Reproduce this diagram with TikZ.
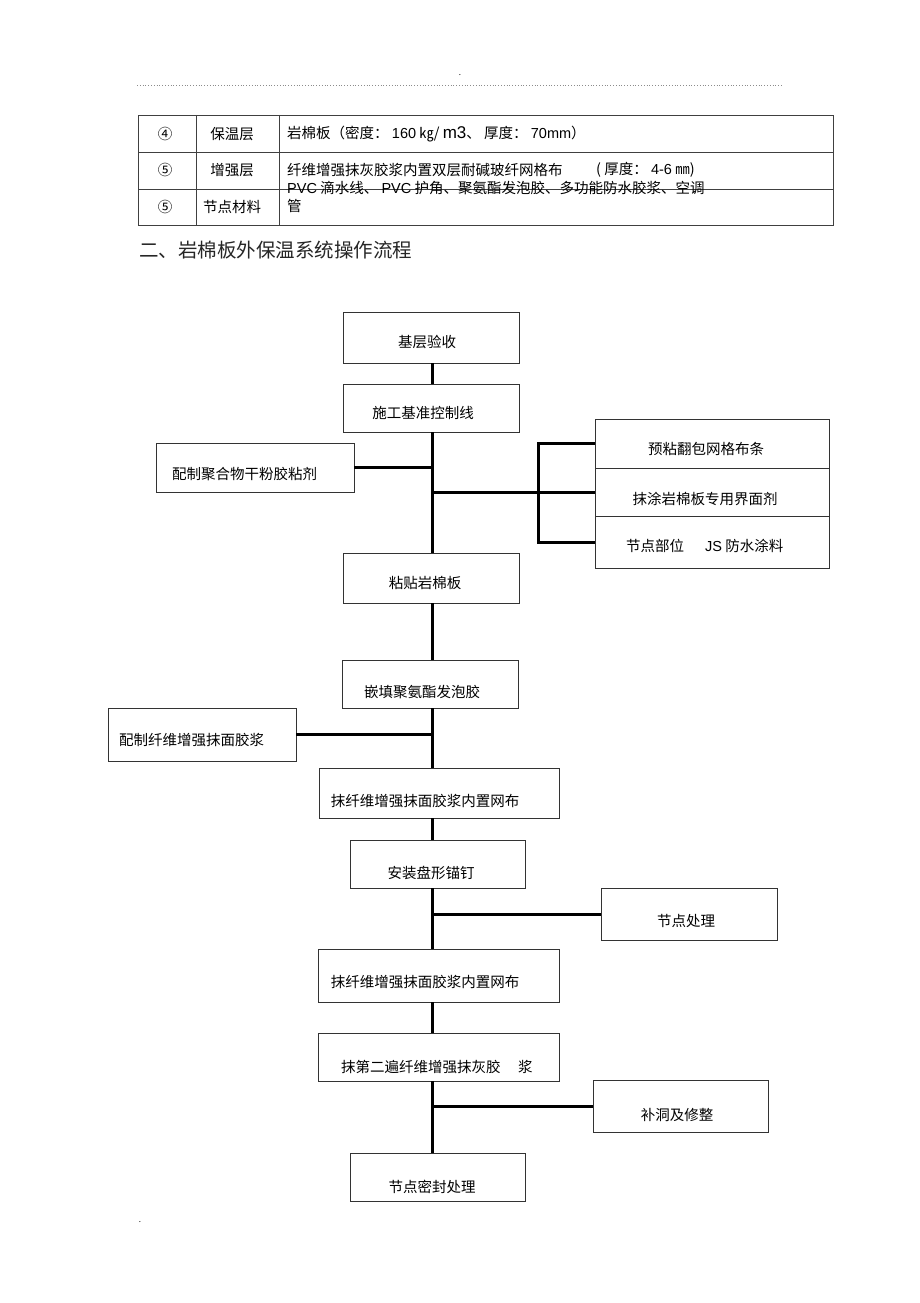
\documentclass[tikz,border=0pt]{standalone}
\usepackage{fontspec}
\setmainfont{Noto Sans CJK SC}
\newfontfamily\lat{Liberation Sans}
\begin{document}
\begin{tikzpicture}[x=1pt,y=-1pt,
  bx/.style={draw=black!80, line width=0.9pt, inner sep=0pt},
  conn/.style={draw=black, line width=3pt},
  tx/.style={inner sep=0pt, font=\fontsize{14.5}{16}\selectfont},
  tbt/.style={inner sep=0pt, font=\fontsize{14.5}{16}\selectfont},
  tline/.style={draw=black!75, line width=0.9pt}]
\useasboundingbox (0,0) rectangle (920,1303);
\fill[white] (0,0) rectangle (920,1303);
% header
\draw[draw=black!45, line width=0.8pt, dotted] (137,85) -- (782,85);
\node[inner sep=0pt, font=\fontsize{8}{8}\selectfont] (hdot) at (460,75) {.};
\node[inner sep=0pt, font=\fontsize{8}{8}\selectfont] (fdot) at (140,1222) {.};
% table
\draw[tline] (138,115) rectangle (833,225);
\draw[tline] (138,152) -- (833,152);
\draw[tline] (138,189) -- (833,189);
\draw[tline] (196,115) -- (196,225);
\draw[tline] (279,115) -- (279,225);
\node[tbt] (c11) at (165,134) {④};
\node[tbt] (c12) at (232,134) {保温层};
\node[tbt, anchor=west] (c13) at (287,134) {岩棉板（密度：\ {\lat 160} ㎏/ {\lat\fontsize{17}{17}\selectfont m3}、 厚度：\ {\lat 70mm}）};
\node[tbt] (c21) at (165,170) {⑤};
\node[tbt] (c22) at (232,170) {增强层};
\node[tbt, anchor=west] (c23) at (287,170) {纤维增强抹灰胶浆内置双层耐碱玻纤网格布};
\node[tbt, anchor=west] (c23b) at (596,170) {( 厚度：\ {\lat 4-6} ㎜)};
\node[tbt] (c31) at (165,207) {⑤};
\node[tbt] (c32) at (232,207) {节点材料};
\node[tbt, anchor=west] (c33) at (287,188) {{\lat PVC} 滴水线、 {\lat PVC} 护角、聚氨酯发泡胶、多功能防水胶浆、空调};
\node[tbt, anchor=west] (c34) at (287,206) {管};
% title
\node[inner sep=0pt, anchor=west, font=\fontsize{19.5}{20}\selectfont, text=black!85] (title) at (139,250) {二、岩棉板外保温系统操作流程};
% trunk x
\coordinate (tk) at (432,0);
% boxes
\node[bx, minimum width=176, minimum height=51] (b1) at (431,337.5) {};
\node[bx, minimum width=176, minimum height=48] (b2) at (431,408) {};
\node[bx, minimum width=198, minimum height=49] (L1) at (255,467.5) {};
\node[bx, minimum width=234, minimum height=49] (R1) at (712,443.5) {};
\node[bx, minimum width=234, minimum height=48] (R2) at (712,492) {};
\node[bx, minimum width=234, minimum height=52] (R3) at (712,542) {};
\node[bx, minimum width=176, minimum height=50] (b3) at (431,578) {};
\node[bx, minimum width=176, minimum height=48] (b4) at (430,684) {};
\node[bx, minimum width=188, minimum height=53] (L2) at (202,734.5) {};
\node[bx, minimum width=240, minimum height=50] (b5) at (439,793) {};
\node[bx, minimum width=175, minimum height=48] (b6) at (437.5,864) {};
\node[bx, minimum width=176, minimum height=52] (R4) at (689,914) {};
\node[bx, minimum width=241, minimum height=53] (b7) at (438.5,975.5) {};
\node[bx, minimum width=241, minimum height=48] (b8) at (438.5,1057) {};
\node[bx, minimum width=175, minimum height=52] (R5) at (680.5,1106) {};
\node[bx, minimum width=175, minimum height=48] (b9) at (437.5,1177) {};
% texts
\node[tx] (t1) at (427,342) {基层验收};
\node[tx] (t2) at (423,413) {施工基准控制线};
\node[tx, anchor=west] (tL1) at (172,474) {配制聚合物干粉胶粘剂};
\node[tx] (tR1) at (706,449) {预粘翻包网格布条};
\node[tx] (tR2) at (705,499) {抹涂岩棉板专用界面剂};
\node[tx, anchor=west] (tR3a) at (626,546) {节点部位};
\node[tx, anchor=west] (tR3b) at (705,546) {{\lat JS} 防水涂料};
\node[tx] (t3) at (425,583) {粘贴岩棉板};
\node[tx] (t4) at (422,692) {嵌填聚氨酯发泡胶};
\node[tx, anchor=west] (tL2) at (119,740) {配制纤维增强抹面胶浆};
\node[tx] (t5) at (425,801) {抹纤维增强抹面胶浆内置网布};
\node[tx] (t6) at (431,873) {安装盘形锚钉};
\node[tx] (tR4) at (686,921) {节点处理};
\node[tx] (t7) at (425,982) {抹纤维增强抹面胶浆内置网布};
\node[tx, anchor=west] (t8a) at (341,1067) {抹第二遍纤维增强抹灰胶};
\node[tx, anchor=west] (t8b) at (518,1067) {浆};
\node[tx] (tR5) at (677,1115) {补洞及修整};
\node[tx] (t9) at (432,1187) {节点密封处理};
% connectors
\draw[conn] (b1.south -| tk) -- (b2.north -| tk);
\draw[conn] (b2.south -| tk) -- (b3.north -| tk);
\draw[conn] (b3.south -| tk) -- (b4.north -| tk);
\draw[conn] (b4.south -| tk) -- (b5.north -| tk);
\draw[conn] (b5.south -| tk) -- (b6.north -| tk);
\draw[conn] (b6.south -| tk) -- (b7.north -| tk);
\draw[conn] (b7.south -| tk) -- (b8.north -| tk);
\draw[conn] (b8.south -| tk) -- (b9.north -| tk);
\draw[conn] (L1.east) -- (L1.east -| tk);
\draw[conn] (R2.west -| tk) -- (R2.west);
\coordinate (brk) at (538,0);
\draw[conn] (R1.west) -- (R1.west -| brk) -- (R3.west -| brk) -- (R3.west);
\draw[conn] (L2.east) -- (L2.east -| tk);
\draw[conn] (R4.west -| tk) -- (R4.west);
\draw[conn] (R5.west -| tk) -- (R5.west);
\end{tikzpicture}
\end{document}
